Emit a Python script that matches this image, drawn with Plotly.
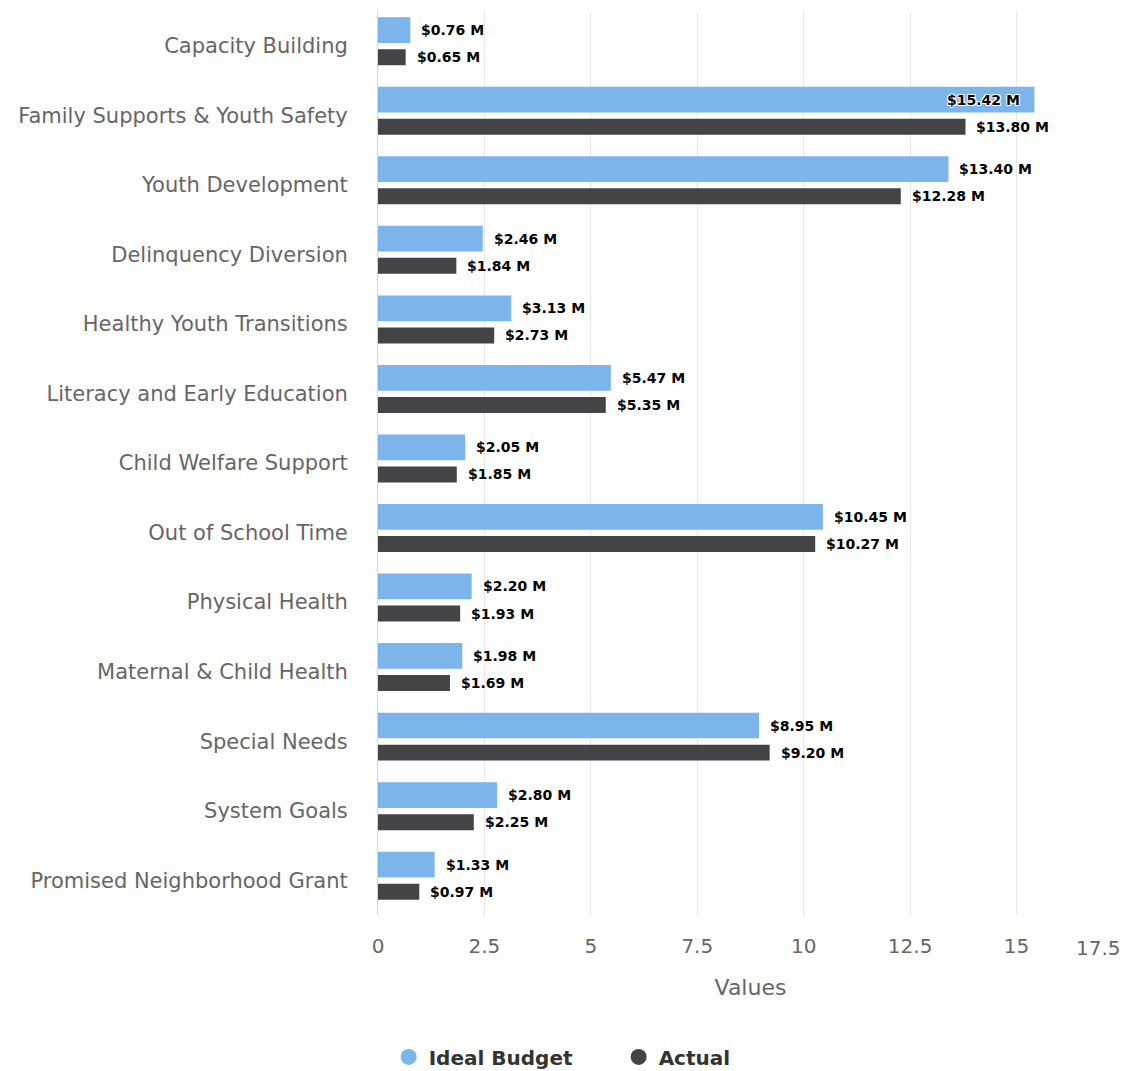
import plotly.graph_objects as go

categories = [
    "Capacity Building",
    "Family Supports & Youth Safety",
    "Youth Development",
    "Delinquency Diversion",
    "Healthy Youth Transitions",
    "Literacy and Early Education",
    "Child Welfare Support",
    "Out of School Time",
    "Physical Health",
    "Maternal & Child Health",
    "Special Needs",
    "System Goals",
    "Promised Neighborhood Grant",
]
ideal_budget = [0.76, 15.42, 13.40, 2.46, 3.13, 5.47, 2.05, 10.45, 2.20, 1.98, 8.95, 2.80, 1.33]
actual = [0.65, 13.80, 12.28, 1.84, 2.73, 5.35, 1.85, 10.27, 1.93, 1.69, 9.20, 2.25, 0.97]
x_ticks = [0, 2.5, 5, 7.5, 10, 12.5, 15, 17.5]
x_max = 17.5

IDEAL_COLOR = "#7cb5ec"
ACTUAL_COLOR = "#434348"
FONT = "DejaVu Sans"
OUTLINE = "-1px -1px 0 #fff, 1px -1px 0 #fff, -1px 1px 0 #fff, 1px 1px 0 #fff"

pos = list(range(len(categories)))

series = [
    ("Ideal Budget", ideal_budget, IDEAL_COLOR, -0.41, 0.37),
    ("Actual", actual, ACTUAL_COLOR, 0.05, 0.23),
]

fig = go.Figure()
annotations = []
for name, vals, color, off, w in series:
    fig.add_trace(go.Bar(
        x=vals, y=pos, orientation="h", offset=off, width=w,
        marker=dict(color=color, line=dict(width=0)),
        name=name, showlegend=False, hoverinfo="x+name",
    ))
    for i, v in zip(pos, vals):
        inside = v > 15
        annotations.append(dict(
            x=v, y=i + off + w / 2, xref="x", yref="y",
            text=f"${v:.2f} M", showarrow=False,
            xanchor="right" if inside else "left",
            xshift=-12 if inside else 9,
            font=dict(family=FONT, size=14, color="#000000", weight="bold", shadow=OUTLINE),
        ))

for name, vals, color, off, w in series:
    fig.add_trace(go.Scatter(
        x=[None], y=[None], mode="markers", name=name,
        marker=dict(color=color, size=20, symbol="circle"),
    ))

# last tick label justified inside the chart (as in the reference)
annotations.append(dict(
    x=x_max, y=0, xref="x", yref="paper", text=f"{x_max:g}", showarrow=False,
    xanchor="right", yanchor="top", yshift=-19,
    font=dict(family=FONT, size=20, color="#666666"),
))

fig.update_layout(
    width=1125, height=1071,
    margin=dict(l=378, r=2, t=11, b=156, autoexpand=False),
    paper_bgcolor="white", plot_bgcolor="white",
    barmode="overlay",
    font=dict(family=FONT, color="#666666"),
    xaxis=dict(
        range=[0, x_max], tickvals=x_ticks,
        ticktext=[f"{t:g}" if t != x_max else "" for t in x_ticks],
        showgrid=True, gridcolor="#e6e6e6", gridwidth=1,
        zeroline=False, showline=False, automargin=False,
        tickfont=dict(size=20, color="#666666"),
        ticklabelstandoff=17,
        title=dict(text="Values", font=dict(size=22, color="#666666"), standoff=22),
    ),
    yaxis=dict(
        range=[len(categories) - 0.5, -0.5],
        tickvals=pos, ticktext=categories,
        showgrid=False, zeroline=False, automargin=False,
        showline=True, linecolor="#ccd6eb", linewidth=1,
        tickfont=dict(size=21, color="#666666"),
        ticklabelstandoff=25,
    ),
    legend=dict(
        orientation="h", x=0.323, xanchor="center", y=-0.157, yanchor="middle",
        font=dict(family=FONT, size=20, color="#333333", weight="bold"),
        entrywidth=185, entrywidthmode="pixels",
        itemclick=False,
    ),
    annotations=annotations,
)

fig.write_html("out.html")
